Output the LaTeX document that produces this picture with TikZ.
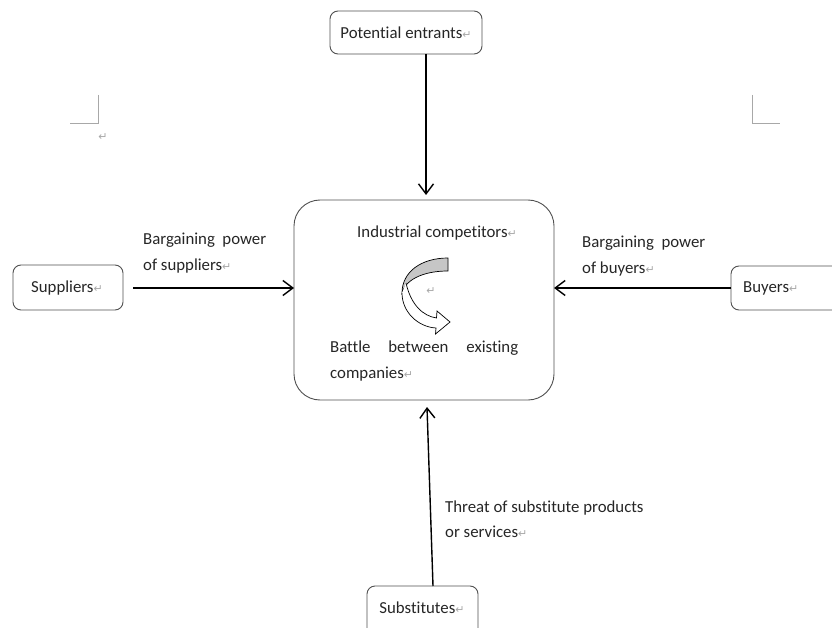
\documentclass[tikz,border=0pt]{standalone}
\usepackage{fontspec}
\setmainfont{Carlito}[Ligatures={NoCommon}]
\newfontfamily\symfont{DejaVu Sans}
\usetikzlibrary{arrows.meta}
\definecolor{ink}{HTML}{262626}
\definecolor{boxline}{HTML}{505050}
\definecolor{markgray}{HTML}{A8A8A8}
\newcommand\ret{{\color{markgray}\symfont\fontsize{11}{11}\selectfont ↵}}
\tikzset{
  txt/.style={font=\fontsize{16.8}{25.5}\selectfont, text=ink, inner sep=0pt},
  smallbox/.style={draw=boxline, line width=0.9pt, rounded corners=8pt},
  force/.style={draw=black, line width=1.4pt, -{Straight Barb[length=10pt,width=15pt,line width=1.4pt]}},
  cropmark/.style={draw=markgray, line width=1pt},
}
\begin{document}
\begin{tikzpicture}[x=1pt,y=-1pt]
\useasboundingbox (0,0) rectangle (832,628);
\clip (0,0) rectangle (832,628);
\fill[white] (0,0) rectangle (832,628);

% page corner marks
\draw[cropmark] (98,95) -- (98,124) -- (70,124);
\draw[cropmark] (752,95) -- (752,124) -- (780,124);
\node[txt] (markret) at (103,137) {\ret};

% boxes
\draw[smallbox] (330,11) rectangle (482,54);
\node[txt] (entrants) at (406,32.5) {Potential entrants\ret};
\coordinate (entrantsB) at (426,54);

\draw[draw=boxline, line width=0.9pt, rounded corners=26pt] (294,200) rectangle (554,400);
\coordinate (centerT) at (426,200);
\coordinate (centerB) at (427,400);
\coordinate (centerL) at (294,288);
\coordinate (centerR) at (554,288);

\draw[smallbox] (13,265) rectangle (123,310);
\node[txt] (suppliers) at (67,288) {Suppliers\ret};
\coordinate (suppliersR) at (123,288);

\draw[smallbox] (731,266) rectangle (850,310);
\node[txt, anchor=west] (buyers) at (743,288) {Buyers\ret};
\coordinate (buyersL) at (731,288);

\draw[smallbox] (367,586) rectangle (478,640);
\node[txt] (substitutes) at (422,608) {Substitutes\ret};
\coordinate (substitutesT) at (433,586);

% inner texts of the central box
\node[txt, anchor=west] (industry) at (357,233) {Industrial competitors\ret};
\node[txt, anchor=north west, align=left] (battle) at (330,341)
  {\makebox[188pt][s]{Battle between existing}\\companies\ret};
\node[txt] (innerret) at (431,291) {\ret};

% curved arrow: shaded back band and white front band with head
\filldraw[fill=gray!45, draw=black, line width=0.7pt]
  (448,258) .. controls (421,258) and (402,272) .. (402,293)
  .. controls (405,281) and (421,271) .. (448,271) -- cycle;
\filldraw[fill=white, draw=black, line width=0.7pt]
  (402,293) .. controls (402,312) and (418,327) .. (436,328)
  -- (435.5,334) -- (450,322) -- (437,311) -- (436.5,318)
  .. controls (423,316) and (411,305) .. (406,283);

% labels of the forces
\node[txt, anchor=west, align=left] (supplab) at (143,253)
  {Bargaining\ \ power\\of suppliers\ret};
\node[txt, anchor=west, align=left] (buylab) at (582,256)
  {Bargaining\ \ power\\of buyers\ret};
\node[txt, anchor=west, align=left] (sublab) at (445,519)
  {Threat of substitute products\\or services\ret};

% connectors
\draw[force] (entrantsB) -- ([yshift=5pt]centerT);
\draw[force] ([xshift=10pt]suppliersR) -- (centerL);
\draw[force] (buyersL) -- (centerR);
\draw[force] (substitutesT) -- ([yshift=-7pt]centerB);
\end{tikzpicture}
\end{document}
